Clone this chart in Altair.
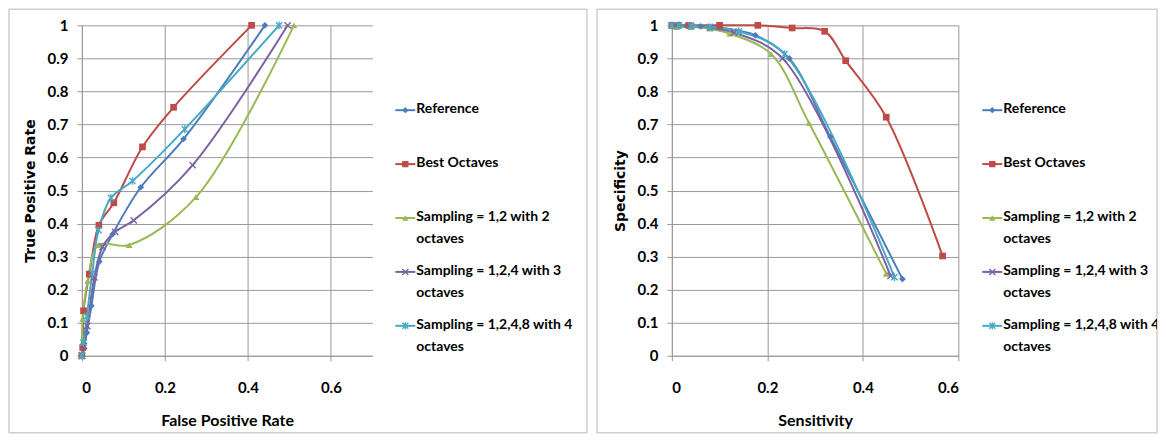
import altair as alt
import pandas as pd

# ---------------- data ----------------
series = ["Reference", "Best Octaves", "Sampling = 1,2 with 2 octaves",
          "Sampling = 1,2,4 with 3 octaves", "Sampling = 1,2,4,8 with 4 octaves"]
legend_labels = ["Reference", "Best Octaves", "Sampling = 1,2 with 2\noctaves",
                 "Sampling = 1,2,4 with 3\noctaves", "Sampling = 1,2,4,8 with 4\noctaves"]
colors = ["#4A7EBB", "#BE4B48", "#98B954", "#7D60A0", "#46AAC5"]
shapes = ["diamond", "square", "triangle-up",
          "M-1,-1L1,1M-1,1L1,-1", "M-1,-1L1,1M-1,1L1,-1M0,-1.2L0,1.2"]

# Left panel: ROC (False Positive Rate, True Positive Rate)
roc_ref_x = [0, 0.004, 0.012, 0.023, 0.042, 0.074, 0.142, 0.245, 0.441]
roc_ref_y = [0, 0.02, 0.07, 0.151, 0.285, 0.368, 0.51, 0.656, 1.0]
roc_best_x = [0, 0.002, 0.004, 0.018, 0.041, 0.077, 0.146, 0.221, 0.409]
roc_best_y = [0, 0.025, 0.136, 0.247, 0.395, 0.463, 0.632, 0.752, 1.0]
roc_s2_x = [0, 0.002, 0.014, 0.04, 0.114, 0.275, 0.511]
roc_s2_y = [0, 0.112, 0.227, 0.335, 0.335, 0.48, 1.0]
roc_s3_x = [0, 0.005, 0.013, 0.03, 0.05, 0.08, 0.125, 0.267, 0.496]
roc_s3_y = [0, 0.03, 0.09, 0.237, 0.33, 0.375, 0.41, 0.577, 1.0]
roc_s4_x = [0, 0.004, 0.012, 0.025, 0.04, 0.07, 0.122, 0.248, 0.475]
roc_s4_y = [0, 0.04, 0.12, 0.25, 0.38, 0.478, 0.529, 0.686, 1.0]

# Right panel: (Sensitivity, Specificity)
ss_ref_x = [0, 0.012, 0.03, 0.06, 0.1, 0.175, 0.246, 0.332, 0.483]
ss_ref_y = [1.0, 1.0, 0.999, 0.997, 0.993, 0.97, 0.9, 0.662, 0.232]
ss_best_x = [0, 0.012, 0.036, 0.1, 0.18, 0.252, 0.32, 0.364, 0.449, 0.567]
ss_best_y = [1.0, 1.0, 1.0, 1.0, 1.0, 0.992, 0.982, 0.893, 0.722, 0.302]
ss_s2_x = [0, 0.01, 0.04, 0.08, 0.121, 0.208, 0.287, 0.449]
ss_s2_y = [1.0, 0.995, 0.995, 0.99, 0.975, 0.913, 0.705, 0.248]
ss_s3_x = [0, 0.01, 0.04, 0.08, 0.13, 0.232, 0.458]
ss_s3_y = [1.0, 1.0, 0.998, 0.993, 0.978, 0.9, 0.242]
ss_s4_x = [0, 0.015, 0.04, 0.08, 0.14, 0.236, 0.466]
ss_s4_y = [1.0, 1.0, 0.998, 0.995, 0.982, 0.913, 0.238]


def long_df(xs, ys):
    rows = []
    for name, xv, yv in zip(series, xs, ys):
        for i, (a, b) in enumerate(zip(xv, yv)):
            rows.append({"series": name, "idx": i, "x": a, "y": b})
    return pd.DataFrame(rows)


roc_df = long_df([roc_ref_x, roc_best_x, roc_s2_x, roc_s3_x, roc_s4_x],
                 [roc_ref_y, roc_best_y, roc_s2_y, roc_s3_y, roc_s4_y])
ss_df = long_df([ss_ref_x, ss_best_x, ss_s2_x, ss_s3_x, ss_s4_x],
                [ss_ref_y, ss_best_y, ss_s2_y, ss_s3_y, ss_s4_y])

NARROW = "Lato"
WIDE = "DejaVu Sans"

color_enc = alt.Color("series:N", scale=alt.Scale(domain=series, range=colors), legend=None)
shape_enc = alt.Shape("series:N", scale=alt.Scale(domain=series, range=shapes), legend=None)


def panel(df, xmax, xtitle, ytitle, frame_x, frame_x2):
    x = alt.X("x:Q", scale=alt.Scale(domain=[0, xmax], nice=False, zero=False),
              axis=alt.Axis(values=[0, 0.2, 0.4, 0.6], format="~g", title=xtitle,
                            labelPadding=20, titlePadding=17, titleFont=NARROW,
                            titleFontSize=16, grid=True))
    y = alt.Y("y:Q", scale=alt.Scale(domain=[0, 1], nice=False),
              axis=alt.Axis(values=[i / 10 for i in range(11)], format="~g", title=ytitle,
                            labelPadding=9, titlePadding=9, titleFont=WIDE,
                            titleFontSize=14, grid=True))
    base = alt.Chart(df)
    lines = base.mark_line(interpolate="catmull-rom", strokeWidth=2).encode(
        x=x, y=y, color=color_enc, order=alt.Order("idx:Q"))
    filled = base.transform_filter(
        alt.FieldOneOfPredicate(field="series", oneOf=series[:3])
    ).mark_point(filled=True, opacity=1, size=45).encode(
        x=x, y=y, color=color_enc, shape=shape_enc)
    hollow = base.transform_filter(
        alt.FieldOneOfPredicate(field="series", oneOf=series[3:])
    ).mark_point(filled=False, opacity=1, size=40, strokeWidth=1.4).encode(
        x=x, y=y, color=color_enc, shape=shape_enc)
    frame = alt.Chart(pd.DataFrame({"k": [0]})).mark_rect(
        clip=False, fill="transparent", stroke="#cfcfcf", strokeWidth=1.5
    ).encode(x=alt.value(frame_x), x2=alt.value(frame_x2),
             y=alt.value(-16), y2=alt.value(408))
    return alt.layer(frame, lines, filled, hollow)


def legend_panel(width, off):
    leg_df = pd.DataFrame({"series": series, "label": legend_labels})
    yenc = alt.Y("series:N", scale=alt.Scale(type="point", domain=series, range=[85, 301], padding=0),
                 axis=None)
    base = alt.Chart(leg_df)
    rule = base.mark_rule(strokeWidth=2).encode(
        x=alt.value(off), x2=alt.value(off + 20), y=yenc, color=color_enc)
    filled = base.transform_filter(
        alt.FieldOneOfPredicate(field="series", oneOf=series[:3])
    ).mark_point(filled=True, opacity=1, size=40).encode(
        x=alt.value(off + 10), y=yenc, color=color_enc, shape=shape_enc)
    hollow = base.transform_filter(
        alt.FieldOneOfPredicate(field="series", oneOf=series[3:])
    ).mark_point(filled=False, opacity=1, size=36, strokeWidth=1.4).encode(
        x=alt.value(off + 10), y=yenc, color=color_enc, shape=shape_enc)
    text = base.mark_text(align="left", baseline="top", dy=-8, lineBreak="\n",
                          font=NARROW, fontSize=14, fontWeight="bold",
                          lineHeight=22.5, color="#000000", clip=True).encode(
        x=alt.value(off + 21), y=yenc, text="label:N")
    return alt.layer(rule, filled, hollow, text).properties(width=width, height=331)


left = panel(roc_df, 0.7, "False Positive Rate", "True Positive Rate", -73, 506).properties(width=291, height=331)
right = panel(ss_df, 0.6, "Sensitivity", "Specificity", -75, 486).properties(width=287, height=331)

chart = alt.hconcat(left, legend_panel(300, 23), right, legend_panel(199, 24),
                    spacing=0, bounds="flush").properties(
    padding={"left": 0, "top": 0, "right": 0, "bottom": 0}
).configure_view(strokeWidth=0).configure_axis(
    labelFont=NARROW, labelFontSize=15, labelFontWeight="bold", labelColor="#000000",
    domainColor="#999999", gridColor="#999999", tickColor="#999999", tickSize=5,
    titleColor="#000000", titleFontWeight="bold", domainWidth=1, gridWidth=1
)

chart.save("out.html", embed_options={"renderer": "svg", "actions": False})
